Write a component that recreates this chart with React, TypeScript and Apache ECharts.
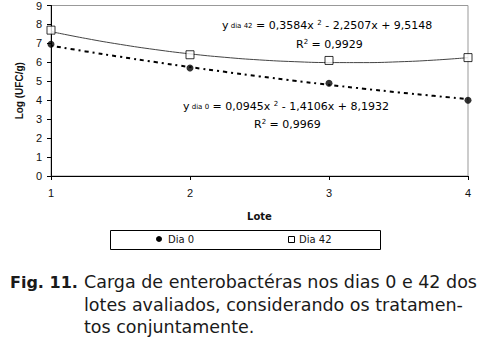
import React, { useEffect, useRef } from "react";
import * as echarts from "echarts";

const lotes = [1, 2, 3, 4];
const dia0 = [6.95, 5.7, 4.9, 4.0];
const dia42 = [7.7, 6.4, 6.1, 6.25];
// displayed polynomial trend coefficients [a, b, c] for a*x^2 + b*x + c
const coefDia0 = [0.0945, -1.4106, 8.1932];
const coefDia42 = [0.3584, -2.2507, 9.5148];
const trendX = [1, 1.25, 1.5, 1.75, 2, 2.25, 2.5, 2.75, 3, 3.25, 3.5, 3.75, 4];
const yTicks = [0, 1, 2, 3, 4, 5, 6, 7, 8, 9];

const trend = (c: number[]) => trendX.map((x) => [x, c[0] * x * x + c[1] * x + c[2]]);

const FONT = "Liberation Sans";
const WIDE = "DejaVu Sans";

export default function App() {
  const ref = useRef<HTMLDivElement>(null);
  useEffect(() => {
    if (!ref.current) return;
    const chart = echarts.init(ref.current, null, { renderer: "svg" });
    const eqRich = {
      n: { fontSize: 11, fontFamily: WIDE, color: "#111" },
      s: { fontSize: 7, fontFamily: WIDE, color: "#111" },
      sup: { fontSize: 7, fontFamily: WIDE, color: "#111", verticalAlign: "top", padding: [0, 0, 6, 0] },
    };
    chart.setOption({
      animation: false,
      backgroundColor: "#fff",
      textStyle: { fontFamily: FONT },
      grid: { left: 51, right: 21, top: 5, bottom: 177, show: true, borderColor: "#999", borderWidth: 1 },
      xAxis: {
        type: "value",
        min: 1,
        max: 4,
        interval: 1,
        name: "Lote",
        nameLocation: "middle",
        nameGap: 35,
        nameTextStyle: { fontSize: 10, fontWeight: "bold", color: "#111", fontFamily: WIDE },
        axisLine: { lineStyle: { color: "#000", width: 1 } },
        axisTick: { show: true, length: 4, lineStyle: { color: "#000" } },
        axisLabel: { fontSize: 11, color: "#111", margin: 11 },
        splitLine: { show: false },
      },
      yAxis: {
        type: "value",
        min: 0,
        max: 9,
        interval: 1,
        name: "Log (UFC/g)",
        nameLocation: "middle",
        nameGap: 27,
        nameTextStyle: { fontSize: 10, fontWeight: "bold", color: "#111", fontFamily: FONT },
        axisLine: { show: true, lineStyle: { color: "#000", width: 1 } },
        axisTick: { show: true, length: 4, lineStyle: { color: "#000" } },
        axisLabel: { fontSize: 11, color: "#111", margin: 9, formatter: (v: number) => (yTicks.includes(v) ? String(v) : "") },
        splitLine: { show: false },
      },
      legend: { show: false },
      series: [
        {
          name: "Tendência Dia 42",
          type: "line",
          data: trend(coefDia42),
          smooth: true,
          symbol: "none",
          lineStyle: { color: "#444", width: 1 },
          z: 2,
        },
        {
          name: "Tendência Dia 0",
          type: "line",
          data: trend(coefDia0),
          smooth: true,
          symbol: "none",
          lineStyle: { color: "#000", width: 2, type: [2, 4, 4, 4] },
          z: 2,
        },
        {
          name: "Dia 0",
          type: "scatter",
          data: lotes.map((x, i) => [x, dia0[i]]),
          symbol: "circle",
          symbolSize: 7,
          itemStyle: { color: "#000" },
          z: 3,
        },
        {
          name: "Dia 42",
          type: "scatter",
          data: lotes.map((x, i) => [x, dia42[i]]),
          symbol: "rect",
          symbolSize: 8,
          itemStyle: { color: "#fff", borderColor: "#000", borderWidth: 1 },
          z: 3,
        },
      ],
      graphic: [
        {
          type: "text",
          left: 222,
          top: 19,
          style: {
            text: "{n|y}{s| dia 42}{n| = 0,3584x }{sup|2}{n| - 2,2507x + 9,5148}",
            rich: eqRich,
          },
        },
        {
          type: "text",
          left: 296,
          top: 38,
          style: { text: "{n|R}{sup|2}{n| = 0,9929}", rich: eqRich },
        },
        {
          type: "text",
          left: 183,
          top: 100,
          style: {
            text: "{n|y}{s| dia 0}{n| = 0,0945x }{sup|2}{n| - 1,4106x + 8,1932}",
            rich: eqRich,
          },
        },
        {
          type: "text",
          left: 254,
          top: 118,
          style: { text: "{n|R}{sup|2}{n| = 0,9969}", rich: eqRich },
        },
        {
          type: "rect",
          left: 110,
          top: 230,
          shape: { width: 270, height: 19 },
          style: { fill: "#fff", stroke: "#000", lineWidth: 1 },
        },
        { type: "circle", left: 156, top: 236, shape: { r: 3 }, style: { fill: "#000" } },
        { type: "text", left: 168, top: 234, style: { text: "Dia 0", fontSize: 10, fontFamily: WIDE, fill: "#111" } },
        {
          type: "rect",
          left: 288,
          top: 236,
          shape: { width: 6, height: 6 },
          style: { fill: "#fff", stroke: "#000", lineWidth: 1 },
        },
        { type: "text", left: 299, top: 234, style: { text: "Dia 42", fontSize: 10, fontFamily: WIDE, fill: "#111" } },
        {
          type: "text",
          left: 10,
          top: 274,
          style: { text: "Fig. 11.", fontSize: 16, fontWeight: "bold", fontFamily: WIDE, fill: "#1a1a1a" },
        },
        {
          type: "text",
          left: 84,
          top: 273,
          style: { text: "Carga de enterobactéras nos dias 0 e 42 dos", fontSize: 17.5, fontFamily: WIDE, fill: "#1a1a1a" },
        },
        {
          type: "text",
          left: 84,
          top: 296,
          style: { text: "lotes avaliados, considerando os tratamen-", fontSize: 17.5, fontFamily: WIDE, fill: "#1a1a1a" },
        },
        {
          type: "text",
          left: 84,
          top: 318,
          style: { text: "tos conjuntamente.", fontSize: 17.5, fontFamily: WIDE, fill: "#1a1a1a" },
        },
      ],
    });
    return () => chart.dispose();
  }, []);
  return (
    <div
      ref={ref}
      style={{ position: "fixed", left: 0, top: 0, width: 489, height: 353, background: "#fff" }}
    />
  );
}
